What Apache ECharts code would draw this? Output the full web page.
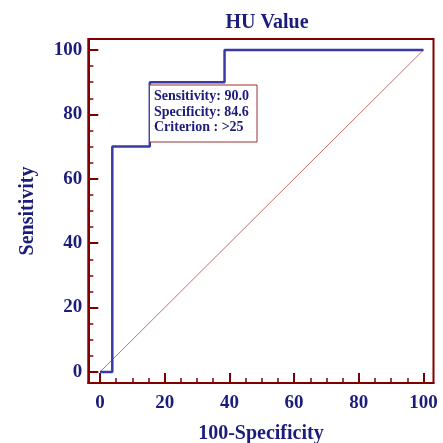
<!DOCTYPE html>
<html>
<head>
<meta charset="utf-8">
<script src="https://cdn.jsdelivr.net/npm/echarts@6/dist/echarts.min.js"></script>
<style>html,body{margin:0;padding:0;background:#fff}#c{width:443px;height:443px}</style>
</head>
<body>
<div id="c"></div>
<script>
// ROC curve points (100-Specificity, Sensitivity)
const rocX = [0, 3.8, 3.8, 15.4, 15.4, 38.5, 38.5, 100];
const rocY = [0, 0, 70, 70, 90, 90, 100, 100];
const diagX = [0, 100];
const diagY = [0, 100];
const majorTicks = [0, 20, 40, 60, 80, 100];
const minorTicks = [5, 10, 15, 25, 30, 35, 45, 50, 55, 65, 70, 75, 85, 90, 95];
const titleText = 'HU Value';
const xName = '100-Specificity';
const yName = 'Sensitivity';
const annotation = ['Sensitivity: 90.0', 'Specificity: 84.6', 'Criterion : >25'];

const navy = '#1c1c7c';
const maroon = '#800000';
const font = 'Liberation Serif';

function makeAxis(isX, major) {
  const a = {
    type: 'value',
    min: isX ? -3.62 : -3.42,
    max: isX ? 103.1 : 103.42,
    position: isX ? 'bottom' : 'left',
    offset: 0,
    axisLine: { show: major, onZero: false, lineStyle: { color: maroon, width: 2 } },
    axisTick: { show: true, inside: true, length: major ? 10 : 5,
      customValues: major ? majorTicks : minorTicks,
      lineStyle: { color: maroon, width: major ? 2 : 1.5 } },
    splitLine: { show: false },
    axisLabel: { show: major, customValues: majorTicks, color: navy, fontFamily: font,
      fontWeight: 'bold', fontSize: 19, margin: isX ? 10.5 : 6 },
    nameTextStyle: { color: navy, fontFamily: font, fontWeight: 'bold', fontSize: 20 },
    nameLocation: 'middle'
  };
  if (major) { a.name = isX ? xName : yName; a.nameGap = isX ? 41 : 50; }
  return a;
}

const chart = echarts.init(document.getElementById('c'));
chart.setOption({
  animation: false,
  title: { text: titleText, left: 262, top: 8, textAlign: 'center',
    textStyle: { color: navy, fontFamily: font, fontWeight: 'bold', fontSize: 20 } },
  grid: { left: 88.3, right: 9.5, top: 39, bottom: 60, containLabel: false, outerBoundsMode: 'none',
    show: true, borderColor: maroon, borderWidth: 2 },
  xAxis: [makeAxis(true, true), makeAxis(true, false)],
  yAxis: [makeAxis(false, true), makeAxis(false, false)],
  graphic: [
    { type: 'rect', left: 149, top: 84.5, z: 10,
      shape: { width: 107.5, height: 57 },
      style: { fill: '#fff', stroke: '#9a3030', lineWidth: 1 } },
    { type: 'text', left: 154, top: 89, z: 11,
      style: { text: annotation.join('\n'), fill: navy, font: 'bold 14px "Liberation Serif"', lineHeight: 15.5 } }
  ],
  series: [
    { type: 'line', data: diagX.map((x, i) => [x, diagY[i]]), symbol: 'none',
      lineStyle: { color: '#b84848', width: 0.8 }, z: 2 },
    { type: 'line', data: rocX.map((x, i) => [x, rocY[i]]), symbol: 'none',
      lineStyle: { color: '#3a3aa6', width: 2.5 }, z: 3 }
  ]
});
</script>
</body>
</html>
